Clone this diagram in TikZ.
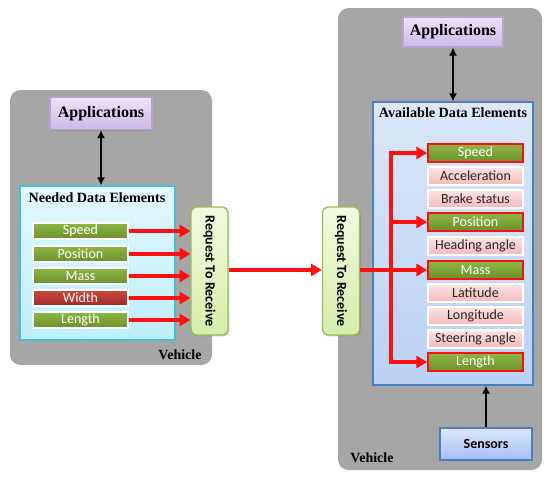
\documentclass[tikz,border=0pt]{standalone}
\usepackage{fontspec}
\setmainfont{Liberation Serif}
\newfontfamily\carlito{Carlito}
\usetikzlibrary{arrows.meta,fit,shadows}
\definecolor{vehgray}{HTML}{A6A6A6}
\definecolor{greenT}{HTML}{8DB645}
\definecolor{greenB}{HTML}{6B9129}
\definecolor{redT}{HTML}{CB4A44}
\definecolor{redB}{HTML}{A02A26}
\definecolor{pinkT}{HTML}{FDE4E4}
\definecolor{pinkB}{HTML}{F5B9B9}
\definecolor{cyanT}{HTML}{E3F8FE}
\definecolor{cyanB}{HTML}{BDEEFB}
\definecolor{cyanD}{HTML}{43BFDB}
\definecolor{blueT}{HTML}{DCE8FA}
\definecolor{blueB}{HTML}{B9D1F4}
\definecolor{blueD}{HTML}{4A7FC6}
\definecolor{purT}{HTML}{EDE3F7}
\definecolor{purB}{HTML}{CDB8E6}
\definecolor{purD}{HTML}{B8A2D6}
\definecolor{reqT}{HTML}{F1FADF}
\definecolor{reqB}{HTML}{D5EEAA}
\definecolor{reqD}{HTML}{9BBB59}
\definecolor{arrred}{HTML}{FF1010}
\tikzset{
  vehbox/.style={fill=vehgray, rounded corners=8pt},
  shad/.style={drop shadow={opacity=0.35,shadow xshift=1pt,shadow yshift=-1pt}},
  appbox/.style={shad, draw=purD, line width=0.8pt, top color=purT, bottom color=purB,
    minimum width=#1, minimum height=24pt, font=\bfseries\fontsize{12}{14}\selectfont, inner sep=0pt},
  itemL/.style={shad, draw=white, line width=0.8pt, minimum width=71.25pt, minimum height=12pt, inner sep=0pt,
    font=\carlito\fontsize{10.5}{12}\selectfont},
  itemR/.style={itemL, minimum height=13.5pt},
  gitem/.style={top color=greenT, bottom color=greenB, text=white},
  ritem/.style={top color=redT, bottom color=redB, text=white},
  pitem/.style={top color=pinkT, bottom color=pinkB, text=black!85},
  selitem/.style={draw=arrred, line width=1.3pt},
  reqbox/.style={shad, draw=reqD, line width=1pt, rounded corners=4pt, top color=reqT, bottom color=reqB,
    minimum width=96pt, minimum height=27.75pt, rotate=-90, inner sep=0pt,
    font=\carlito\bfseries\fontsize{10.5}{12}\selectfont},
  redarrow/.style={draw=arrred, line width=2.5pt, -{Triangle[length=8pt,width=9pt]}},
  redline/.style={draw=arrred, line width=2.5pt},
  blkarrow/.style={draw=black, line width=1.1pt, {Latex[length=6pt,width=6pt]}-{Latex[length=6pt,width=6pt]}},
  blkone/.style={draw=black, line width=1.1pt, -{Latex[length=6pt,width=6pt]}},
  ttl/.style={font=\bfseries\fontsize{10.6}{12}\selectfont},
  vlabel/.style={font=\bfseries\fontsize{10.5}{12}\selectfont}
}
\begin{document}
\begin{tikzpicture}[x=0.75pt,y=-0.75pt]
\useasboundingbox (0,0) rectangle (550,476);
% vehicles
\node[vehbox, fit={(10,90)(212,365)}, inner sep=0pt] (vehL) {};
\node[vehbox, fit={(338,8)(542,470)}, inner sep=0pt] (vehR) {};
\node[vlabel] (vlL) at (180,355) {Vehicle};
\node[vlabel] (vlR) at (372,458) {Vehicle};
% left side
\node[appbox=76.5pt] (appL) at (101,113.5) {Applications};
\node[shad, draw=cyanD, line width=1pt, top color=cyanT, bottom color=cyanB, fit={(20,186)(175,340)}, inner sep=0pt] (need) {};
\node[ttl] (needT) at (97,198) {Needed Data Elements};
\node[itemL,gitem] (lSpeed) at (80.5,231) {Speed};
\node[itemL,gitem] (lPos) at (80.5,254) {Position};
\node[itemL,gitem] (lMass) at (80.5,276) {Mass};
\node[itemL,ritem] (lWidth) at (80.5,298) {Width};
\node[itemL,gitem] (lLength) at (80.5,320) {Length};
\node[reqbox] (reqL) at (209.5,271) {Request To Receive};
% right side
\node[appbox=75pt, minimum height=22.5pt] (appR) at (453,32) {Applications};
\node[shad, draw=blueD, line width=1pt, top color=blueT, bottom color=blueB, fit={(373,102)(533,385)}, inner sep=0pt] (avail) {};
\node[ttl] (availT) at (453,113) {Available Data Elements};
\node[itemR,gitem,selitem] (rSpeed) at (475.5,153) {Speed};
\node[itemR,pitem] (rAcc) at (475.5,176) {Acceleration};
\node[itemR,pitem] (rBrake) at (475.5,199) {Brake status};
\node[itemR,gitem,selitem] (rPos) at (475.5,222) {Position};
\node[itemR,pitem] (rHead) at (475.5,246) {Heading angle};
\node[itemR,gitem,selitem] (rMass) at (475.5,270) {Mass};
\node[itemR,pitem] (rLat) at (475.5,293) {Latitude};
\node[itemR,pitem] (rLon) at (475.5,316) {Longitude};
\node[itemR,pitem] (rSteer) at (475.5,339) {Steering angle};
\node[itemR,gitem,selitem] (rLength) at (475.5,362) {Length};
\node[reqbox] (reqR) at (341,271) {Request To Receive};
\node[shad, draw=blueD, line width=1pt, top color=blueT, bottom color=blueB!90!blue,
  minimum width=69pt, minimum height=24pt, inner sep=0pt, font=\carlito\bfseries\fontsize{10.5}{12}\selectfont] (sens) at (486,444) {Sensors};
% connectors
\draw[blkarrow] (appL.south) -- (appL.south |- need.north);
\draw[blkarrow] (appR.south) -- (appR.south |- avail.north);
\draw[blkone] (sens.north) -- (sens.north |- avail.south);
\foreach \n in {lSpeed,lPos,lMass,lWidth,lLength}
  \draw[redarrow] (\n.east) -- (\n.east -| reqL.south);
\draw[redarrow] (reqL.north |- 0,270) -- (reqR.south |- 0,270);
\coordinate (busT) at (391,153);
\coordinate (busB) at (391,362);
\draw[redline] (reqR.north |- rMass) -- (busT |- rMass);
\draw[redarrow, line join=miter] (busB) -- (busT) -- (rSpeed.west);
\draw[redarrow, line join=miter] (busT) -- (busB) -- (rLength.west);
\draw[redarrow] (busT |- rPos) -- (rPos.west);
\draw[redarrow] (busT |- rMass) -- (rMass.west);
\end{tikzpicture}
\end{document}
